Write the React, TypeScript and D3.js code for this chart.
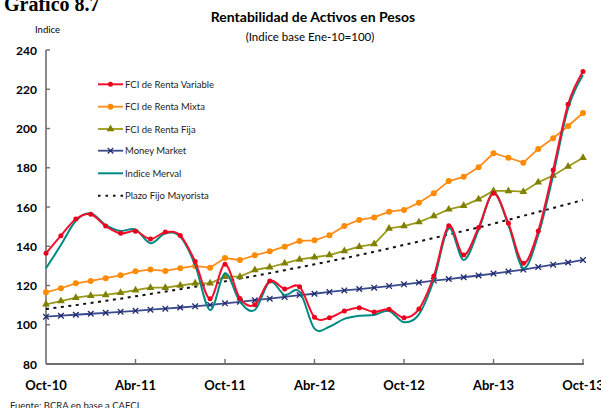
import React from "react";
import * as d3 from "d3";

const months = d3.range(37);
const tickIdx = [0, 6, 12, 18, 24, 30, 36];
const tickLabels = ["Oct-10", "Abr-11", "Oct-11", "Abr-12", "Oct-12", "Abr-13", "Oct-13"];
const yTicks = [80, 100, 120, 140, 160, 180, 200, 220, 240];

const rentaVariable = [136.4, 145.4, 153.9, 156.3, 150.3, 146.6, 147.7, 143.7, 147.2, 145.5, 132.2, 113.3, 130.8, 113.4, 110.2, 122.3, 118.2, 119.4, 103.8, 103.6, 107.0, 108.7, 106.5, 107.9, 103.6, 108.0, 124.8, 150.5, 135.5, 149.6, 167.0, 151.7, 131.3, 147.8, 178.9, 212.3, 229.0];
const rentaMixta = [116.5, 118.6, 121.1, 122.3, 123.7, 125.2, 127.2, 128.1, 127.4, 128.8, 130.0, 129.1, 134.0, 133.0, 135.4, 137.4, 139.8, 142.7, 143.0, 145.6, 150.3, 153.4, 154.7, 157.6, 158.5, 162.2, 167.0, 173.2, 175.4, 180.2, 187.4, 185.1, 182.6, 189.6, 195.0, 201.3, 207.9];
const rentaFija = [110.4, 112.1, 113.8, 114.8, 115.2, 116.3, 117.6, 118.9, 118.9, 120.0, 121.1, 121.1, 124.5, 124.5, 127.9, 129.3, 131.3, 133.3, 134.4, 135.5, 137.6, 139.8, 141.1, 149.1, 150.3, 152.3, 155.4, 158.8, 160.6, 164.0, 168.2, 168.2, 167.8, 172.6, 176.0, 180.6, 185.1];
const moneyMarket = [104.1, 104.6, 105.1, 105.6, 106.1, 106.6, 107.1, 107.7, 108.2, 108.8, 109.4, 110.1, 110.9, 111.7, 112.5, 113.3, 114.2, 115.1, 115.8, 116.7, 117.5, 118.2, 118.9, 119.7, 120.6, 121.5, 122.5, 123.3, 124.2, 125.1, 126.1, 127.1, 128.1, 129.4, 130.6, 131.7, 133.0];
const merval = [128.8, 140.6, 153.0, 156.8, 150.8, 147.8, 148.6, 141.5, 146.6, 144.9, 130.4, 107.5, 126.2, 111.8, 107.5, 121.9, 115.2, 116.9, 98.0, 99.0, 103.0, 104.6, 105.0, 107.0, 101.3, 105.3, 122.8, 149.1, 133.0, 148.3, 167.3, 150.8, 128.8, 145.7, 176.3, 210.3, 227.3];
const plazoFijo = [108.0, 109.0, 110.0, 111.1, 112.2, 113.3, 114.5, 115.7, 116.9, 118.1, 119.4, 120.7, 122.1, 123.5, 124.9, 126.3, 127.8, 129.3, 130.8, 132.3, 133.9, 135.5, 137.2, 138.9, 140.7, 142.4, 144.2, 146.0, 147.8, 149.6, 151.5, 153.5, 155.5, 157.5, 159.5, 161.5, 163.6];

const legendNames = ["FCI de Renta Variable", "FCI de Renta Mixta", "FCI de Renta Fija", "Money Market", "Indice Merval", "Plazo Fijo Mayorista"];

const W = 601;
const H = 408;
const FONT = "Lato, 'Open Sans', sans-serif";

const x = d3.scaleLinear().domain([0, 36]).range([46, 583]);
const y = d3.scaleLinear().domain([80, 240]).range([364, 50]);

type Series = {
  name: string;
  values: number[];
  color: string;
  markerColor: string;
  width: number;
  smooth: boolean;
  marker: "circle" | "bigcircle" | "triangle" | "times" | "none";
  dash?: string;
};

const series: Series[] = [
  { name: legendNames[0], values: rentaVariable, color: "#F2102C", markerColor: "#E8001C", width: 2, smooth: true, marker: "circle" },
  { name: legendNames[1], values: rentaMixta, color: "#FF8C1A", markerColor: "#FF8C00", width: 1.8, smooth: false, marker: "bigcircle" },
  { name: legendNames[2], values: rentaFija, color: "#9A9A1A", markerColor: "#808000", width: 1.8, smooth: false, marker: "triangle" },
  { name: legendNames[3], values: moneyMarket, color: "#3A4A8C", markerColor: "#1F2A6E", width: 1.8, smooth: false, marker: "times" },
  { name: legendNames[4], values: merval, color: "#008A84", markerColor: "#008A84", width: 2, smooth: true, marker: "none" },
  { name: legendNames[5], values: plazoFijo, color: "#111111", markerColor: "#111111", width: 2, smooth: false, marker: "none", dash: "3,4.5" },
];

// drawing order: Merval below Renta Variable
const drawOrder = [5, 3, 2, 1, 4, 0];

const timesType: any = (d3 as any).symbolTimes || d3.symbolCross;

function Marker({ kind, cx, cy, color }: { kind: string; cx: number; cy: number; color: string }) {
  if (kind === "circle") return <circle cx={cx} cy={cy} r={2.5} fill={color} />;
  if (kind === "bigcircle") return <circle cx={cx} cy={cy} r={3} fill={color} />;
  if (kind === "triangle") {
    const p = d3.symbol().type(d3.symbolTriangle).size(26)();
    return <path d={p || ""} transform={`translate(${cx},${cy})`} fill={color} />;
  }
  if (kind === "times") {
    const p = d3.symbol().type(timesType).size(22)();
    return <path d={p || ""} transform={`translate(${cx},${cy})`} fill="none" stroke={color} strokeWidth={1.3} />;
  }
  return null;
}

export default function App() {
  const legendY = [84.3, 106.7, 129, 150.7, 173.3, 195.7];
  return (
    <svg width={W} height={H} style={{ position: "absolute", left: 0, top: 0, background: "#fff" }} fontFamily={FONT}>
      <rect width={W} height={H} fill="#fff" />
      <text x={4} y={11} fontFamily="'Liberation Serif', 'Times New Roman', serif" fontWeight="bold" fontSize={20} fill="#000">Gráfico 8.7</text>
      <text x={313} y={22} textAnchor="middle" fontWeight="bold" fontSize={14} fill="#000">Rentabilidad de Activos en Pesos</text>
      <text x={310} y={41} textAnchor="middle" fontSize={11.5} fill="#000">(Indice base Ene-10=100)</text>
      <text x={35} y={33} fontSize={9.5} fill="#000">Indice</text>

      {/* y axis */}
      <line x1={46} x2={46} y1={y(240)} y2={y(80)} stroke="#6e6e6e" strokeWidth={1.6} />
      {yTicks.map((t) => (
        <g key={t}>
          <line x1={46} x2={50} y1={y(t)} y2={y(t)} stroke="#6e6e6e" strokeWidth={1.4} />
          <text x={37} y={y(t)} textAnchor="end" dominantBaseline="central" fontWeight="bold" fontSize={12} fill="#000">{t}</text>
        </g>
      ))}
      {/* x axis */}
      <line x1={46} x2={584} y1={y(80)} y2={y(80)} stroke="#6e6e6e" strokeWidth={2} />
      {tickIdx.map((ti, k) => (
        <g key={ti}>
          {k > 0 && <line x1={x(ti)} x2={x(ti)} y1={y(80)} y2={y(80) - 5} stroke="#6e6e6e" strokeWidth={1.4} />}
          <text x={x(ti)} y={390} textAnchor="middle" fontWeight="bold" fontSize={13} fill="#000">{tickLabels[k]}</text>
        </g>
      ))}

      {/* series */}
      {drawOrder.map((idx) => {
        const s = series[idx];
        const gen = d3.line<number>()
          .x((_, i) => x(months[i]))
          .y((v) => y(v))
          .curve(s.smooth ? d3.curveCatmullRom.alpha(0) : d3.curveLinear);
        return (
          <g key={s.name}>
            <path d={gen(s.values) || ""} fill="none" stroke={s.color} strokeWidth={s.width} strokeDasharray={s.dash} strokeLinejoin="round" />
            {s.marker !== "none" && s.values.map((v, i) => (
              <Marker key={i} kind={s.marker} cx={x(months[i])} cy={y(v)} color={s.markerColor} />
            ))}
          </g>
        );
      })}

      {/* legend */}
      {series.map((s, k) => (
        <g key={"lg" + k}>
          <line x1={98} x2={123} y1={legendY[k]} y2={legendY[k]} stroke={s.color} strokeWidth={s.width} strokeDasharray={s.dash ? "2.5,5" : undefined} />
          {s.marker !== "none" && <Marker kind={s.marker} cx={110.5} cy={legendY[k]} color={s.markerColor} />}
          <text x={125} y={legendY[k]} dominantBaseline="central" fontSize={9.5} fill="#222">{s.name}</text>
        </g>
      ))}

      <text x={10} y={409} fontSize={9.5} fill="#222">Fuente: BCRA en base a CAFCI</text>
    </svg>
  );
}
